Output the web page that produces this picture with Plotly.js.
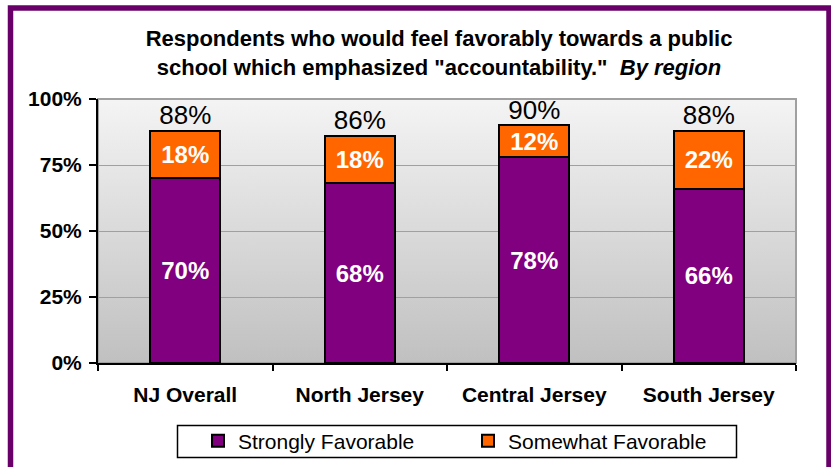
<!DOCTYPE html>
<html>
<head>
<meta charset="utf-8">
<script src="https://cdn.plot.ly/plotly-3.0.1.min.js"></script>
<style>
  html, body { margin: 0; padding: 0; background: #ffffff; }
  #chart { width: 831px; height: 467px; }
</style>
</head>
<body>
<div id="chart"></div>
<script>
const categories = ['NJ Overall', 'North Jersey', 'Central Jersey', 'South Jersey'];
const stronglyFavorable = [70, 68, 78, 66];
const somewhatFavorable = [18, 18, 12, 22];
const totalFavorable = [88, 86, 90, 88];
const yTickValues = [0, 25, 50, 75, 100];

const FONT = '"Liberation Sans", Arial, sans-serif';
const PURPLE = '#800080';
const ORANGE = '#FF6600';

const traces = [
  {
    type: 'bar', name: 'Strongly Favorable', x: categories, y: stronglyFavorable,
    marker: { color: PURPLE, line: { color: '#000000', width: 2 } },
    width: 0.4,
    texttemplate: '%{y}%', textposition: 'inside', insidetextanchor: 'middle',
    textangle: 0, constraintext: 'none',
    textfont: { family: FONT, size: 24, color: '#ffffff', weight: 'bold' },
    hoverinfo: 'skip'
  },
  {
    type: 'bar', name: 'Somewhat Favorable', x: categories, y: somewhatFavorable,
    marker: { color: ORANGE, line: { color: '#000000', width: 2 } },
    width: 0.4,
    texttemplate: '%{y}%', textposition: 'inside', insidetextanchor: 'middle',
    textangle: 0, constraintext: 'none',
    textfont: { family: FONT, size: 24, color: '#ffffff', weight: 'bold' },
    hoverinfo: 'skip'
  },
  {
    type: 'scatter', mode: 'text', x: categories, y: totalFavorable,
    text: totalFavorable.map(v => v + '%'), textposition: 'top center',
    textfont: { family: FONT, size: 26, color: '#000000' },
    showlegend: false, cliponaxis: false, hoverinfo: 'skip'
  }
];

const gradSvg = '<svg xmlns="http://www.w3.org/2000/svg" width="100" height="100" preserveAspectRatio="none">' +
  '<defs><linearGradient id="g" x1="0" y1="0" x2="0" y2="1">' +
  '<stop offset="0" stop-color="#f4f4f4"/><stop offset="1" stop-color="#c0c0c0"/>' +
  '</linearGradient></defs><rect width="100" height="100" fill="url(#g)"/></svg>';

const L = 98, R = 35, T = 99, B = 104, W = 831, H = 467;
const pw = W - L - R, ph = H - T - B;
const px = v => (v - L) / pw;
const py = v => (H - B - v) / ph;

const layout = {
  width: W, height: H,
  margin: { l: L, r: R, t: T, b: B, pad: 0, autoexpand: false },
  paper_bgcolor: '#ffffff',
  plot_bgcolor: 'rgba(0,0,0,0)',
  barmode: 'stack',
  font: { family: FONT, color: '#000000' },
  title: {
    text: 'Respondents who would feel favorably towards a public<br>school which emphasized "accountability."\u00a0\u00a0<i>By region</i>',
    font: { family: FONT, size: 22, color: '#000000', weight: 'bold' },
    x: 439 / W, xanchor: 'center', xref: 'container',
    y: 1 - 46 / H, yanchor: 'top', yref: 'container'
  },
  xaxis: {
    type: 'category', automargin: false,
    showline: true, linecolor: '#000000', linewidth: 2,
    ticks: 'outside', tickson: 'boundaries', ticklen: 6, tickwidth: 2, tickcolor: '#000000',
    tickfont: { family: FONT, size: 21, color: '#000000', weight: 'bold' },
    ticklabelstandoff: 12,
    showgrid: false, zeroline: false, fixedrange: true
  },
  yaxis: {
    range: [0, 100], automargin: false,
    tickvals: yTickValues, ticktext: yTickValues.map(v => v + '%'),
    showline: true, linecolor: '#000000', linewidth: 2,
    ticks: 'outside', ticklen: 7, tickwidth: 2, tickcolor: '#000000',
    tickfont: { family: FONT, size: 21, color: '#000000', weight: 'bold' },
    ticklabelstandoff: 3,
    showgrid: true, gridcolor: '#a0a0a0', gridwidth: 1,
    zeroline: false, fixedrange: true
  },
  legend: {
    orientation: 'h', traceorder: 'normal',
    xref: 'container', yref: 'container',
    x: 198 / W, xanchor: 'left', y: 1 - 441 / H, yanchor: 'middle',
    borderwidth: 0, bgcolor: 'rgba(0,0,0,0)',
    font: { family: FONT, size: 21, color: '#000000' },
    entrywidth: 225
  },
  images: [{
    source: 'data:image/svg+xml;utf8,' + encodeURIComponent(gradSvg),
    xref: 'paper', yref: 'paper', x: 0, y: 1, sizex: 1, sizey: 1,
    xanchor: 'left', yanchor: 'top', sizing: 'stretch', layer: 'below'
  }],
  shapes: [
    { type: 'rect', xref: 'paper', yref: 'paper', x0: 0, x1: 1, y0: 0, y1: 1,
      line: { color: '#a0a0a0', width: 2 }, fillcolor: 'rgba(0,0,0,0)', layer: 'below' },
    { type: 'rect', xref: 'paper', yref: 'paper', x0: px(177.5), x1: px(736.5), y0: py(425.5), y1: py(457.5),
      line: { color: '#000000', width: 1.5 }, fillcolor: '#ffffff', layer: 'below' },
    { type: 'rect', xref: 'paper', yref: 'paper', x0: px(10.5), x1: px(829), y0: py(8), y1: py(490),
      line: { color: '#690069', width: 5.5 }, fillcolor: 'rgba(0,0,0,0)', layer: 'below' }
  ],
  showlegend: true
};

Plotly.newPlot('chart', traces, layout, { displayModeBar: false, staticPlot: true });
</script>
</body>
</html>
